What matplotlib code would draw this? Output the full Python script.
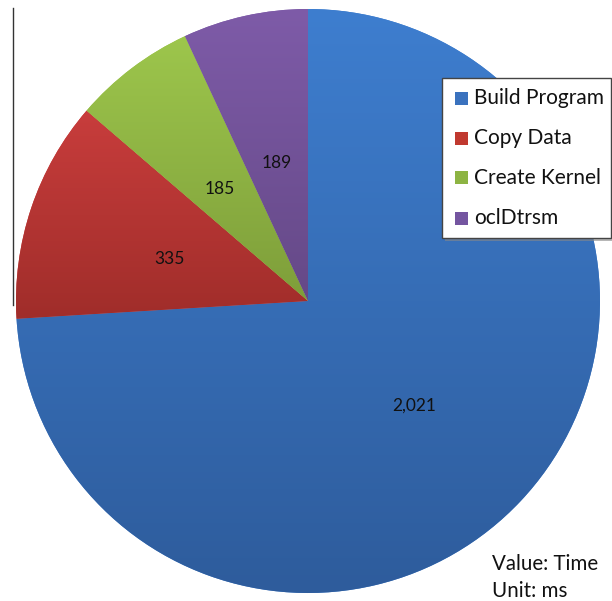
import matplotlib
matplotlib.use("Agg")
import matplotlib.pyplot as plt
import numpy as np
from matplotlib.colors import LinearSegmentedColormap
from matplotlib.patches import Rectangle
from matplotlib.lines import Line2D

categories = ["Build Program", "Copy Data", "Create Kernel", "oclDtrsm"]
values = [2021, 335, 185, 189]
value_labels = ["2,021", "335", "185", "189"]
top_colors = ["#3E7ECF", "#C83D3C", "#9DC64C", "#7E5BA8"]
bottom_colors = ["#2E5C9C", "#A02D2A", "#7E9E3A", "#654987"]
legend_colors = ["#3A72BE", "#C0392F", "#8DB443", "#7455A0"]

plt.rcParams['font.family'] = ['Lato', 'DejaVu Sans']

W, H = 612, 601
fig = plt.figure(figsize=(W / 100, H / 100), dpi=100)
cx, cy, r = 308, 301, 292
ax = fig.add_axes([(cx - r) / W, (H - cy - r) / H, 2 * r / W, 2 * r / H])
ax.set_xlim(-1, 1)
ax.set_ylim(-1, 1)
ax.set_aspect('equal')
ax.axis('off')

wedges, texts = ax.pie(values, startangle=90, counterclock=False, radius=1,
                       colors=top_colors, labels=value_labels, labeldistance=0.5,
                       textprops=dict(fontsize=12.5, color='#111111', ha='center', va='center'),
                       wedgeprops=dict(linewidth=0))

for w, c1, c2 in zip(wedges, top_colors, bottom_colors):
    cmap = LinearSegmentedColormap.from_list("g", [c2, c1])
    grad = np.linspace(0, 1, 256).reshape(-1, 1)
    theta1, theta2 = np.radians(w.theta1), np.radians(w.theta2)
    ts = np.linspace(theta1, theta2, 100)
    ys = np.concatenate([[0], np.sin(ts)])
    ymin, ymax = ys.min(), ys.max()
    im = ax.imshow(grad, cmap=cmap, origin='lower', extent=[-1, 1, ymin, ymax],
                   aspect='auto', zorder=w.get_zorder() + 0.1)
    im.set_clip_path(w)
for t in texts:
    t.set_zorder(5)
    x, y = t.get_position()
    t.set_position((x, y - 0.015))
ax.set_xlim(-1, 1)
ax.set_ylim(-1, 1)

# thin vertical line at left
fig.add_artist(Line2D([13 / W, 13 / W], [1 - 8 / H, 1 - 305 / H], color='#333333', lw=1.0))

# legend box with shadow
lx0, ly0, lx1, ly1 = 442, 78, 611, 238
fig.add_artist(Rectangle(((lx0 + 3) / W, 1 - (ly1 + 3) / H), (lx1 - lx0) / W, (ly1 - ly0) / H,
                         facecolor='#888888', edgecolor='none', alpha=0.6, zorder=9))
fig.add_artist(Rectangle((lx0 / W, 1 - ly1 / H), (lx1 - lx0) / W, (ly1 - ly0) / H,
                         facecolor='white', edgecolor='#444444', lw=1.0, zorder=10))
ys_leg = [98, 138, 178, 218]
for cat, col, yy in zip(categories, legend_colors, ys_leg):
    fig.add_artist(Rectangle((455 / W, 1 - (yy + 6.5) / H), 13 / W, 13 / H,
                             facecolor=col, edgecolor='none', zorder=11))
    fig.text(474 / W, 1 - yy / H, cat, fontsize=15, ha='left', va='center',
             color='#111111', zorder=12)

fig.text(492 / W, 1 - 564 / H, "Value: Time", fontsize=14.8, ha='left', va='center', color='#111111')
fig.text(492 / W, 1 - 591 / H, "Unit: ms", fontsize=14.8, ha='left', va='center', color='#111111')

fig.savefig("out.png", dpi=100, facecolor='white')
